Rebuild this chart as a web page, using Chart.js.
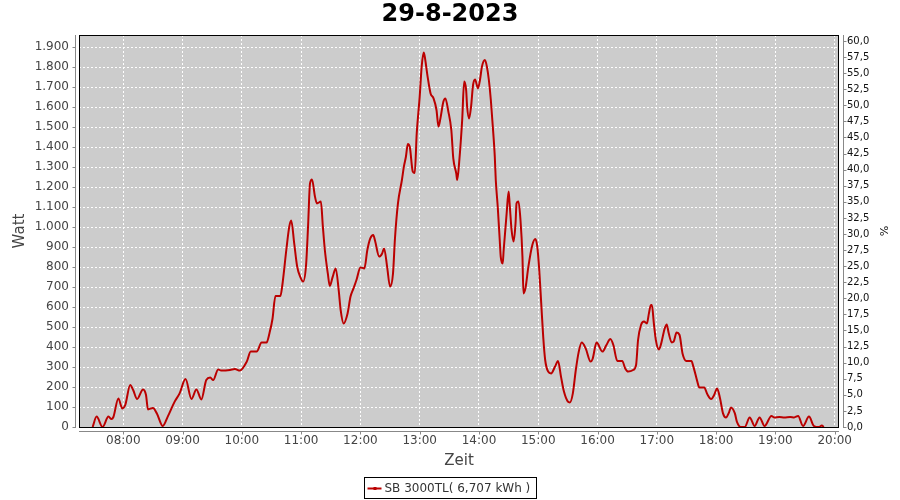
<!DOCTYPE html>
<html>
<head>
<meta charset="utf-8">
<script src="https://cdn.jsdelivr.net/npm/chart.js@4.4.0/dist/chart.umd.min.js"></script>
<style>
  html, body { margin: 0; padding: 0; background: #fff; }
</style>
</head>
<body>
<canvas id="chart" width="900" height="500"></canvas>
<script>
const chartTitle = "29-8-2023";
const seriesLabel = "SB 3000TL( 6,707 kWh )";

// measurement times (hh:mm) and power in watt, one line per hour
const times = [
  "07:29","07:33","07:39","07:45","07:48","07:50","07:55","07:59",
  "08:02","08:07","08:10","08:14","08:20","08:23","08:25","08:30","08:34","08:40","08:45","08:52","08:57",
  "09:03","09:09","09:14","09:19","09:24","09:28","09:31","09:36","09:39","09:48","09:53","09:58",
  "10:05","10:09","10:15","10:20","10:25","10:28","10:31","10:34","10:39","10:41","10:45","10:48","10:50","10:53","10:56","10:59",
  "11:02","11:05","11:07","11:09","11:11","11:14","11:16","11:20","11:22","11:24","11:27","11:29","11:32","11:35","11:38","11:40","11:43","11:47","11:50","11:53","11:56",
  "12:00","12:04","12:07","12:10","12:13","12:15","12:19","12:22","12:24","12:27","12:30","12:33","12:35","12:38","12:42","12:44","12:46","12:48","12:50","12:53","12:55","12:57",
  "13:00","13:02","13:04","13:05","13:08","13:11","13:14","13:17","13:19","13:21","13:24","13:26","13:29","13:32","13:34","13:37","13:38","13:40","13:43","13:45","13:47","13:48","13:50","13:52","13:54","13:56","13:59",
  "14:01","14:03","14:06","14:08","14:10","14:12","14:14","14:16","14:17","14:19","14:21","14:22","14:24","14:25","14:28","14:30","14:31","14:33","14:35","14:37","14:38","14:40","14:42","14:44","14:45","14:47","14:50","14:54","14:57","14:59",
  "15:01","15:03","15:05","15:07","15:10","15:13","15:17","15:20","15:23","15:26","15:30","15:32","15:35","15:38","15:41","15:44","15:48","15:53","15:55","15:59",
  "16:05","16:09","16:13","16:16","16:20","16:25","16:28","16:31","16:36","16:39","16:41","16:44","16:47","16:50","16:52","16:54","16:55","16:57","16:59",
  "17:02","17:04","17:08","17:10","17:12","17:15","17:17","17:20","17:23","17:26","17:30","17:35","17:37","17:41","17:43","17:48","17:51","17:55","17:58",
  "18:01","18:04","18:07","18:10","18:13","18:15","18:19","18:21","18:25","18:29","18:34","18:39","18:44","18:49","18:56","18:59",
  "19:04","19:09","19:15","19:19","19:23","19:28","19:34","19:39","19:44","19:47","19:49"
];
const watt = [
  0,52,0,52,40,50,143,93,
  110,210,185,140,188,160,88,95,68,5,52,127,168,
  240,140,188,138,235,247,235,288,282,285,290,282,
  327,377,377,422,422,470,540,655,655,710,885,1002,1032,918,802,752,
  727,810,1002,1218,1238,1152,1118,1127,1002,885,768,705,752,793,685,585,518,568,652,693,735,
  798,793,885,943,960,927,852,868,893,802,702,768,945,1118,1235,1302,1350,1415,1400,1277,1270,1468,
  1652,1802,1872,1855,1752,1668,1643,1585,1502,1543,1627,1643,1577,1485,1343,1268,1235,1327,1535,1727,1685,1602,1543,1602,1710,1738,1693,
  1735,1802,1835,1802,1735,1635,1502,1352,1235,1100,935,852,818,885,1068,1177,1118,985,927,1018,1118,1127,1035,852,668,693,802,910,940,902,
  785,618,452,335,277,268,302,330,252,177,127,123,168,285,377,422,393,327,340,422,
  377,410,440,410,330,330,293,277,285,310,435,510,527,518,568,610,610,518,435,
  388,410,493,513,470,423,427,472,460,368,330,330,302,227,197,198,165,140,160,
  193,143,68,47,72,98,68,27,0,0,48,5,48,5,55,48,
  50,48,50,48,55,5,52,5,0,7,0
];

const hourTicks = [8, 9, 10, 11, 12, 13, 14, 15, 16, 17, 18, 19, 20];
const hourLabels = ["08:00","09:00","10:00","11:00","12:00","13:00","14:00","15:00","16:00","17:00","18:00","19:00","20:00"];
const wattTicks = [0,100,200,300,400,500,600,700,800,900,1000,1100,1200,1300,1400,1500,1600,1700,1800,1900];
const pctTicks = [0,2.5,5,7.5,10,12.5,15,17.5,20,22.5,25,27.5,30,32.5,35,37.5,40,42.5,45,47.5,50,52.5,55,57.5,60];

const toHours = s => { const [h, m] = s.split(":").map(Number); return h + m / 60; };
const points = times.map((t, i) => ({ x: toHours(t), y: watt[i] }));

const fmtWatt = v => v >= 1000 ? Math.floor(v / 1000) + "." + String(v % 1000).padStart(3, "0") : String(v);

const FONT = '"DejaVu Sans", sans-serif';

// plot background, frame, offset axis lines and the boxed legend (JFreeChart look)
const plotFrame = {
  id: "plotFrame",
  beforeDraw(chart) {
    const { ctx, chartArea: a } = chart;
    ctx.save();
    ctx.fillStyle = "#cccccc";
    ctx.fillRect(a.left, a.top, a.right - a.left, a.bottom - a.top);
    ctx.restore();
  },
  afterDraw(chart) {
    const { ctx, chartArea: a, scales } = chart;
    ctx.save();
    ctx.lineWidth = 1;
    ctx.strokeStyle = "#000";
    ctx.strokeRect(a.left + 0.5, a.top + 0.5, a.right - a.left - 1, a.bottom - a.top);

    ctx.strokeStyle = "#888";
    ctx.beginPath();
    // left axis
    const lx = a.left - 3.5;
    ctx.moveTo(lx, a.top); ctx.lineTo(lx, a.bottom + 1);
    scales.y.ticks.forEach(t => {
      const py = Math.round(scales.y.getPixelForValue(t.value)) + 0.5;
      ctx.moveTo(lx - 3, py); ctx.lineTo(lx, py);
    });
    // bottom axis
    const by = a.bottom + 4.5;
    ctx.moveTo(a.left, by); ctx.lineTo(a.right, by);
    scales.x.ticks.forEach(t => {
      const px = Math.round(scales.x.getPixelForValue(t.value)) + 0.5;
      ctx.moveTo(px, by); ctx.lineTo(px, by + 3);
    });
    // right axis
    const rx = a.right + 4.5;
    ctx.moveTo(rx, a.top); ctx.lineTo(rx, a.bottom + 1);
    scales.y1.ticks.forEach(t => {
      const py = Math.round(scales.y1.getPixelForValue(t.value)) + 0.5;
      ctx.moveTo(rx, py); ctx.lineTo(rx + 3, py);
    });
    ctx.stroke();

    // legend
    const ds = chart.data.datasets[0];
    ctx.font = "12px " + FONT;
    const tw = ctx.measureText(ds.label).width;
    const bw = Math.round(tw + 26), bh = 21;
    const bx = Math.round((chart.width - bw) / 2) + 0.5, byy = chart.height - 23 + 0.5;
    ctx.strokeStyle = "#000";
    ctx.strokeRect(bx, byy, bw, bh);
    ctx.strokeStyle = ds.borderColor;
    ctx.lineWidth = 2;
    ctx.beginPath();
    ctx.moveTo(bx + 3, byy + 11); ctx.lineTo(bx + 17, byy + 11);
    ctx.stroke();
    ctx.fillStyle = ds.borderColor;
    ctx.fillRect(bx + 9, byy + 9.5, 3, 3);
    ctx.fillStyle = "#333";
    ctx.textBaseline = "middle";
    ctx.fillText(ds.label, bx + 20, byy + 11);
    ctx.restore();
  }
};

new Chart(document.getElementById("chart"), {
  type: "line",
  data: {
    datasets: [{
      label: seriesLabel,
      data: points,
      borderColor: "#bb0000",
      backgroundColor: "#bb0000",
      borderWidth: 2,
      pointRadius: 0,
      cubicInterpolationMode: "monotone",
      fill: false
    }]
  },
  options: {
    responsive: false,
    animation: false,
    layout: { padding: { top: 0, left: 0, right: 0, bottom: 27 } },
    plugins: {
      legend: { display: false },
      tooltip: { enabled: false },
      title: {
        display: true,
        text: chartTitle,
        color: "#000",
        font: { family: FONT, size: 24, weight: "bold", lineHeight: 1.2 },
        padding: { top: 0, bottom: 6.2 }
      }
    },
    scales: {
      x: {
        type: "linear",
        min: 7.253,
        max: 20.073,
        afterFit: s => { s.height = 46; },
        afterBuildTicks: s => { s.ticks = hourTicks.map(v => ({ value: v })); },
        grid: { color: "#ffffff", lineWidth: 1, drawTicks: false },
        border: { display: false, dash: [2, 2] },
        ticks: {
          autoSkip: false, maxRotation: 0, padding: 7,
          color: "#444", font: { family: FONT, size: 12 },
          callback: (v, i) => hourLabels[i]
        },
        title: {
          display: true, text: "Zeit", color: "#444",
          font: { family: FONT, size: 15, lineHeight: 1.2 },
          padding: { top: 0, bottom: 3 }
        }
      },
      y: {
        position: "left",
        min: 0,
        max: 1960,
        afterFit: s => { s.width = 79; },
        afterBuildTicks: s => { s.ticks = wattTicks.map(v => ({ value: v })); },
        grid: { color: "#ffffff", lineWidth: 1, drawTicks: false },
        border: { display: false, dash: [2, 2] },
        ticks: {
          padding: 10, color: "#444", font: { family: FONT, size: 12 },
          callback: v => fmtWatt(v)
        },
        title: {
          display: true, text: "Watt", color: "#444",
          font: { family: FONT, size: 15, lineHeight: 1.2 },
          padding: { top: 11, bottom: 0 }
        }
      },
      y1: {
        axis: "y",
        position: "right",
        display: true,
        min: 0,
        max: 60.93,
        afterFit: s => { s.width = 61; },
        afterBuildTicks: s => { s.ticks = pctTicks.map(v => ({ value: v })); },
        grid: { display: false, drawOnChartArea: false, drawTicks: false },
        border: { display: false },
        ticks: {
          padding: 8, color: "#111", font: { family: FONT, size: 10 },
          callback: v => v.toFixed(1).replace(".", ",")
        },
        title: {
          display: true, text: "%", color: "#111",
          font: { family: FONT, size: 11, lineHeight: 1.2 },
          padding: { top: 11, bottom: 0 }
        }
      }
    }
  },
  plugins: [plotFrame]
});
</script>
</body>
</html>
